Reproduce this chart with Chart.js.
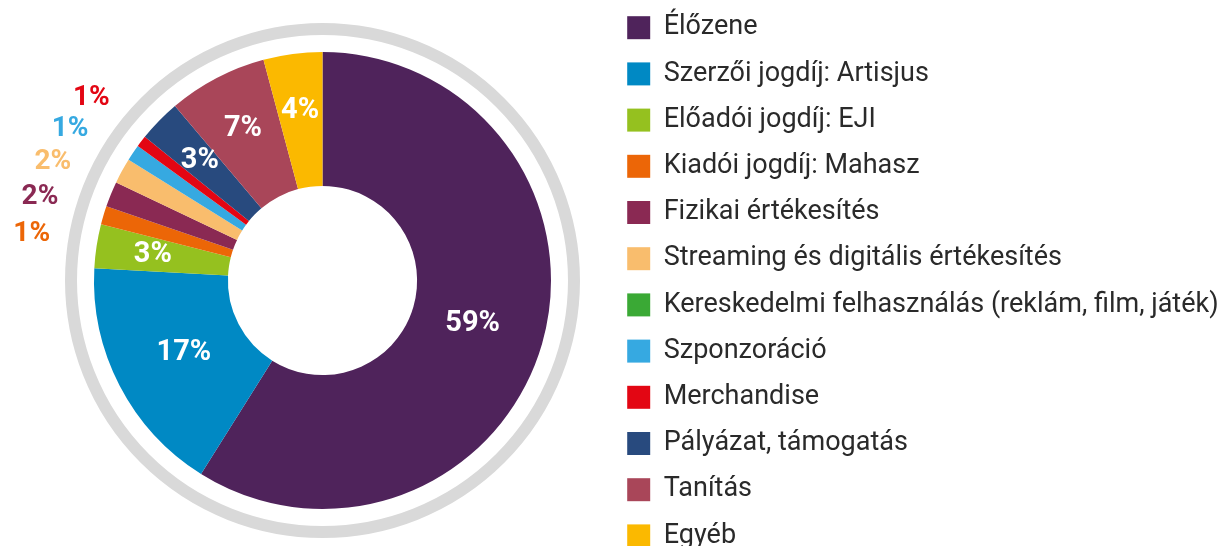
<!DOCTYPE html>
<html>
<head>
<meta charset="utf-8">
<script src="https://cdn.jsdelivr.net/npm/chart.js@4.4.1/dist/chart.umd.min.js"></script>
<style>
  html, body { margin: 0; padding: 0; background: #fff; overflow: hidden; }
  #wrap { position: relative; width: 1221px; height: 546px; overflow: hidden; }
  #chart { position: absolute; left: 0; top: -5px; }
</style>
</head>
<body>
<div id="wrap"><canvas id="chart" width="1221" height="600"></canvas></div>
<script>
// Income sources (share of total, %)
const categories = [
    'Élőzene',
    'Szerzői jogdíj: Artisjus',
    'Előadói jogdíj: EJI',
    'Kiadói jogdíj: Mahasz',
    'Fizikai értékesítés',
    'Streaming és digitális értékesítés',
    'Kereskedelmi felhasználás (reklám, film, játék)',
    'Szponzoráció',
    'Merchandise',
    'Pályázat, támogatás',
    'Tanítás',
    'Egyéb'
];
const shares = [58.8, 16.9, 3.1, 1.3, 1.8, 1.8, 0, 1.15, 0.8, 3.0, 7.0, 4.15];
const shareLabels = ['59%', '17%', '3%', '1%', '2%', '2%', '', '1%', '1%', '3%', '7%', '4%'];
const sliceColors = [
    '#4f235b', '#0089c4', '#95c11f', '#ec6607', '#8a2953', '#f9bd6d',
    '#3aa935', '#36a9e1', '#e30613', '#284a7e', '#a94659', '#fbb900'
];

// grey ring around the doughnut
const outerRing = {
    id: 'outerRing',
    beforeDatasetsDraw(chart) {
        const arc = chart.getDatasetMeta(0).data[0];
        const ctx = chart.ctx;
        ctx.save();
        ctx.beginPath();
        ctx.arc(arc.x, arc.y, arc.outerRadius + 23, 0, Math.PI * 2);
        ctx.lineWidth = 12;
        ctx.strokeStyle = '#d9d9d9';
        ctx.stroke();
        ctx.restore();
    }
};

// percentage labels: white inside big slices, coloured outside the small ones
const sliceLabels = {
    id: 'sliceLabels',
    afterDatasetsDraw(chart) {
        const ctx = chart.ctx;
        const arcs = chart.getDatasetMeta(0).data;
        const outside = [];
        ctx.save();
        ctx.textAlign = 'center';
        ctx.textBaseline = 'middle';
        ctx.font = 'bold 29px Roboto';
        arcs.forEach((arc, i) => {
            if (!shares[i]) return;
            if (shares[i] < 2.5) {
                outside.push({ i: i, start: arc.startAngle });
                return;
            }
            const mid = (arc.startAngle + arc.endAngle) / 2;
            const r = arc.innerRadius + (arc.outerRadius - arc.innerRadius) * (shares[i] > 10 ? 0.46 : 0.575);
            ctx.fillStyle = '#ffffff';
            ctx.fillText(shareLabels[i], arc.x + r * Math.cos(mid), arc.y + r * Math.sin(mid));
        });

        // spread the small ones evenly round the outside
        const step = 7.3 * Math.PI / 180;
        const mean = outside.reduce((s, o) => s + o.start, 0) / outside.length - 0.22 * step;
        const c = arcs[0];
        const r = c.outerRadius + 66;
        ctx.font = 'bold 28px Roboto';
        outside.forEach((o, k) => {
            const a = mean + (k - (outside.length - 1) / 2) * step;
            ctx.fillStyle = sliceColors[o.i];
            ctx.fillText(shareLabels[o.i], c.x + r * Math.cos(a), c.y + r * Math.sin(a));
        });
        ctx.restore();
    }
};

new Chart(document.getElementById('chart'), {
    type: 'doughnut',
    data: {
        labels: categories,
        datasets: [{
            data: shares,
            backgroundColor: sliceColors,
            borderWidth: 0,
            radius: 228.5,
            cutout: '41.4%'
        }]
    },
    options: {
        responsive: false,
        animation: false,
        layout: { padding: { left: 37 } },
        plugins: {
            legend: {
                position: 'right',
                align: 'start',
                maxWidth: 613,
                labels: {
                    boxWidth: 23,
                    boxHeight: 23,
                    padding: 19.2,
                    color: '#2a2a2a',
                    font: { family: 'Roboto', size: 27, lineHeight: 1 }
                }
            },
            // empty bottom title only keeps the doughnut centre up
            title: {
                display: true,
                position: 'bottom',
                fullSize: false,
                text: '',
                padding: 0,
                font: { size: 29, lineHeight: 1 }
            },
            tooltip: { enabled: false }
        }
    },
    plugins: [outerRing, sliceLabels]
});
</script>
</body>
</html>
